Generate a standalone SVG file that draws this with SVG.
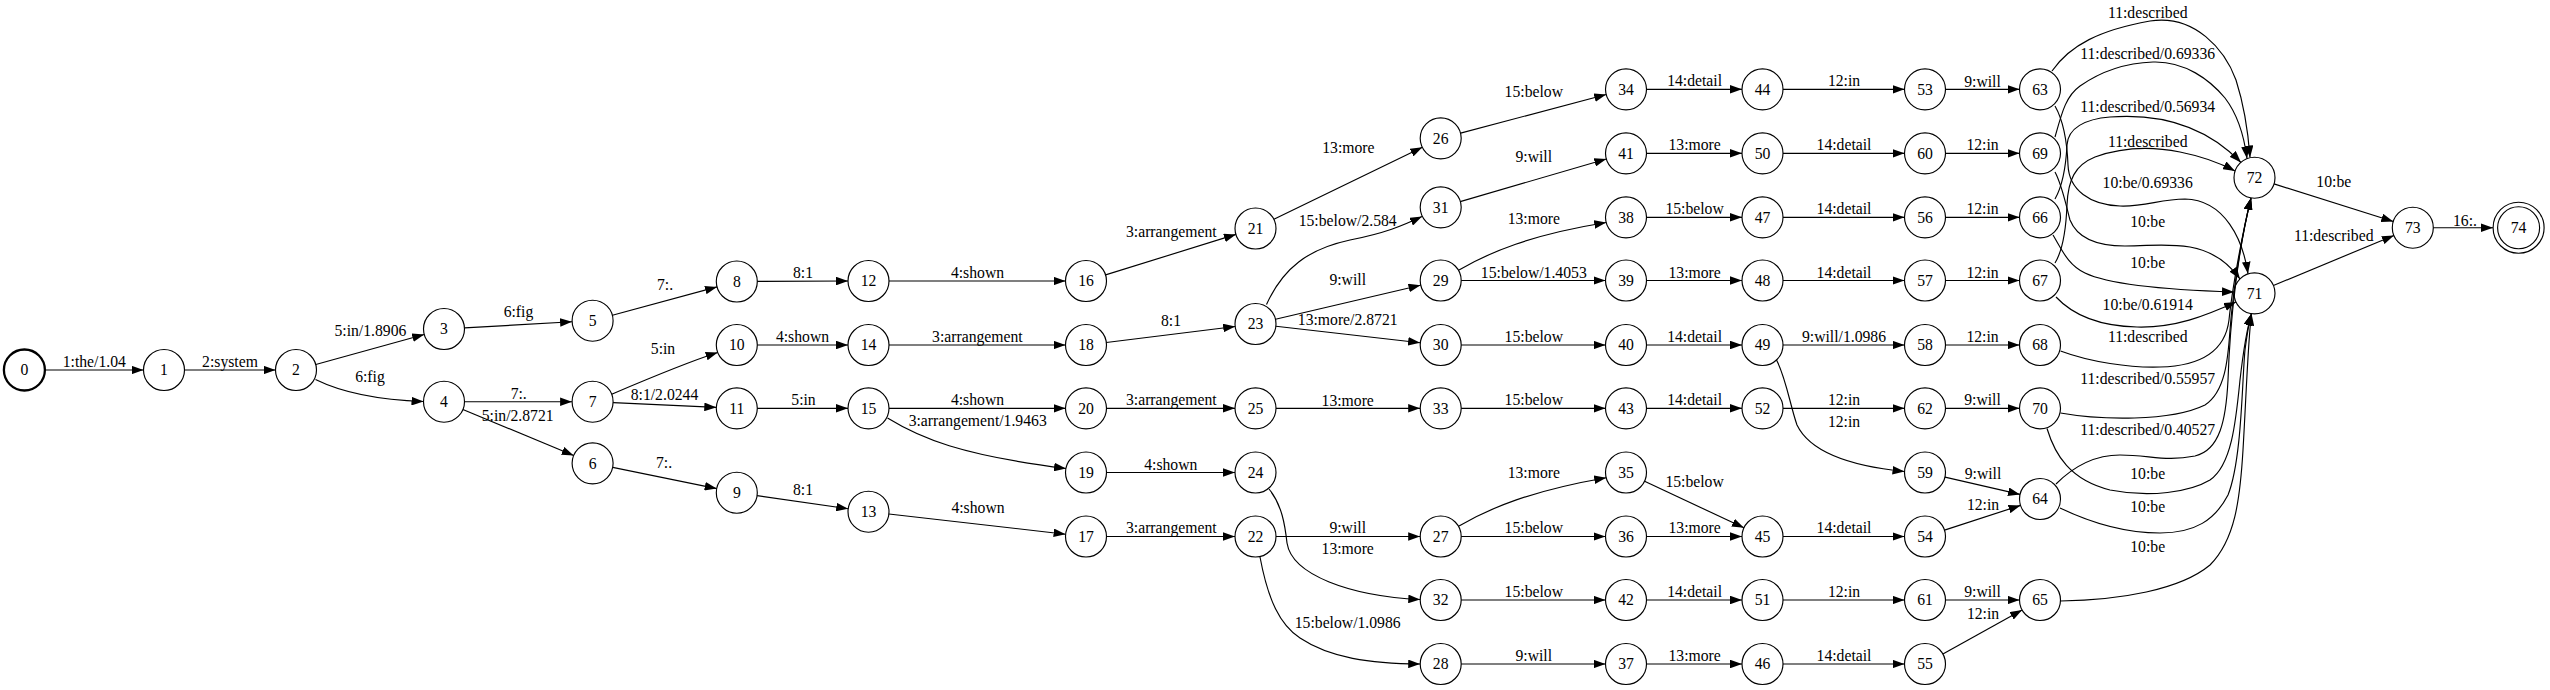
<svg xmlns="http://www.w3.org/2000/svg" width="2550" height="690" viewBox="0 0 2550 690">
<style>
text{font-family:"Liberation Serif","Times New Roman",serif;font-size:15.7px;text-anchor:middle;fill:#000}
.n circle{fill:none;stroke:#000;stroke-width:1.15}
.e path{fill:none;stroke:#000;stroke-width:1.15;marker-end:url(#a)}
</style>
<defs>
<marker id="a" viewBox="0 0 12 8.6" refX="12" refY="4.3" markerWidth="12" markerHeight="8.6" markerUnits="userSpaceOnUse" orient="auto"><path d="M0,0 L12,4.3 L0,8.6 z" fill="#000"/></marker>
</defs>
<rect width="2550" height="690" fill="#fff"/>
<g id="edges" class="e">
<g><path d="M45.4,370 L143.5,370"/><text x="94.3" y="366.5">1:the/1.04</text></g>
<g><path d="M184.5,370 L275.5,370"/><text x="230" y="366.5">2:system</text></g>
<g><path d="M315.8,364.5 L424.2,334.5"/><text x="370.4" y="336">5:in/1.8906</text></g>
<g><path d="M315.5,379.5 C345,394 380,400 423.5,401.5"/><text x="370" y="382">6:fig</text></g>
<g><path d="M464.5,327.9 L572.1,321.8"/><text x="518.5" y="317">6:fig</text></g>
<g><path d="M464.5,401.7 L572.1,401.7"/><text x="518.7" y="398.5">7:.</text></g>
<g><path d="M462.9,409.5 L573.7,455.5"/><text x="517.7" y="420.5">5:in/2.8721</text></g>
<g><path d="M612.4,315.3 L717,286.9"/><text x="665" y="290">7:.</text></g>
<g><path d="M611.7,394.2 C645,380 685,363 717.7,352.5"/><text x="663" y="354">5:in</text></g>
<g><path d="M613.1,402.6 L716.3,407.4"/><text x="664.5" y="400">8:1/2.0244</text></g>
<g><path d="M612.7,467.4 L716.7,488.6"/><text x="664" y="468">7:.</text></g>
<g><path d="M757.3,281.4 L848,281"/><text x="803" y="278">8:1</text></g>
<g><path d="M757.3,345 L848,345"/><text x="802.5" y="342">4:shown</text></g>
<g><path d="M757.3,408.3 L848,408.3"/><text x="803.5" y="405">5:in</text></g>
<g><path d="M757.1,495.6 L848.2,508.8"/><text x="803" y="495">8:1</text></g>
<g><path d="M889,281 L1065.5,281"/><text x="977.5" y="278">4:shown</text></g>
<g><path d="M889,345 L1065.5,345"/><text x="977.4" y="341.5">3:arrangement</text></g>
<g><path d="M889,408.3 L1065.5,408.3"/><text x="977.5" y="405">4:shown</text></g>
<g><path d="M887.5,418 C920,438 960,455 1066,468.5"/><text x="977.7" y="426">3:arrangement/1.9463</text></g>
<g><path d="M888.9,514 L1065.6,534.2"/><text x="978" y="513">4:shown</text></g>
<g><path d="M1105.6,274.9 L1235.9,234.4"/><text x="1171.3" y="237">3:arrangement</text></g>
<g><path d="M1106.3,342.5 L1235.2,326.5"/><text x="1171" y="326">8:1</text></g>
<g><path d="M1106.5,408.3 L1235,408.3"/><text x="1171.3" y="405">3:arrangement</text></g>
<g><path d="M1106.5,472.5 L1235,472.5"/><text x="1170.8" y="469.5">4:shown</text></g>
<g><path d="M1106.5,536.5 L1235,536.5"/><text x="1171.3" y="533">3:arrangement</text></g>
<g><path d="M1273.9,219.3 L1422.4,147.3"/><text x="1348.4" y="153">13:more</text></g>
<g><path d="M1266.5,304.5 C1283,268 1308,249 1350,240 C1385,233 1402,226 1422,216.5"/><text x="1347.7" y="226">15:below/2.584</text></g>
<g><path d="M1275.5,319.3 L1420.5,285.2"/><text x="1347.7" y="284.5">9:will</text></g>
<g><path d="M1275.9,326.3 L1420.1,342.7"/><text x="1347.7" y="325">13:more/2.8721</text></g>
<g><path d="M1276,408.3 L1420.2,408.3"/><text x="1347.7" y="405.5">13:more</text></g>
<g><path d="M1276,536.5 L1420.2,536.5"/><text x="1347.7" y="533">9:will</text></g>
<g><path d="M1269,489 C1282,505 1285,525 1287,543 C1292,575 1350,596 1420.3,599.5"/><text x="1347.7" y="554">13:more</text></g>
<g><path d="M1260,557 C1268,600 1280,625 1300,638 C1330,658 1370,663.5 1420.2,664"/><text x="1347.7" y="628">15:below/1.0986</text></g>
<g><path d="M1460.6,133.1 L1606.2,94.5"/><text x="1533.8" y="96.5">15:below</text></g>
<g><path d="M1460.2,201.6 L1606.3,159"/><text x="1533.8" y="162">9:will</text></g>
<g><path d="M1459,270 C1490,252 1530,235 1606.2,222.5"/><text x="1533.8" y="224">13:more</text></g>
<g><path d="M1461.2,280.5 L1605.5,280.5"/><text x="1533.8" y="277.5">15:below/1.4053</text></g>
<g><path d="M1461.2,345 L1605.5,345"/><text x="1533.8" y="342">15:below</text></g>
<g><path d="M1461.2,408.3 L1605.5,408.3"/><text x="1533.8" y="405">15:below</text></g>
<g><path d="M1459,526 C1490,508 1530,491 1606.2,477.7"/><text x="1533.8" y="478">13:more</text></g>
<g><path d="M1461.2,536.5 L1605.5,536.5"/><text x="1533.8" y="533">15:below</text></g>
<g><path d="M1461.2,600 L1605.5,600"/><text x="1533.8" y="597">15:below</text></g>
<g><path d="M1461.2,664 L1605.5,664"/><text x="1533.8" y="661">9:will</text></g>
<g><path d="M1646.5,89.3 L1742,89.3"/><text x="1694.6" y="86">14:detail</text></g>
<g><path d="M1646.5,153.3 L1742,153.3"/><text x="1694.6" y="150">13:more</text></g>
<g><path d="M1646.5,217.3 L1742,217.3"/><text x="1694.6" y="214">15:below</text></g>
<g><path d="M1646.5,280.5 L1742,280.5"/><text x="1694.6" y="277.5">13:more</text></g>
<g><path d="M1646.5,345 L1742,345"/><text x="1694.6" y="342">14:detail</text></g>
<g><path d="M1646.5,408.3 L1742,408.3"/><text x="1694.6" y="405">14:detail</text></g>
<g><path d="M1644.6,481.2 L1743.9,527.8"/><text x="1694.6" y="486.5">15:below</text></g>
<g><path d="M1646.5,536.5 L1742,536.5"/><text x="1694.6" y="533">13:more</text></g>
<g><path d="M1646.5,600 L1742,600"/><text x="1694.6" y="597">14:detail</text></g>
<g><path d="M1646.5,664 L1742,664"/><text x="1694.6" y="661">13:more</text></g>
<g><path d="M1783,89.3 L1904.5,89.3"/><text x="1844" y="86">12:in</text></g>
<g><path d="M1783,153.3 L1904.5,153.3"/><text x="1844" y="150">14:detail</text></g>
<g><path d="M1783,217.3 L1904.5,217.3"/><text x="1844" y="214">14:detail</text></g>
<g><path d="M1783,280.5 L1904.5,280.5"/><text x="1844" y="277.5">14:detail</text></g>
<g><path d="M1783,345 L1904.5,345"/><text x="1844" y="342">9:will/1.0986</text></g>
<g><path d="M1783,408.3 L1904.5,408.3"/><text x="1844" y="405">12:in</text></g>
<g><path d="M1776.5,360 C1786,378 1790,405 1797,425 C1810,452 1850,466 1904.5,471.5"/><text x="1844" y="426.5">12:in</text></g>
<g><path d="M1783,536.5 L1904.5,536.5"/><text x="1844" y="533">14:detail</text></g>
<g><path d="M1783,600 L1904.5,600"/><text x="1844" y="597">12:in</text></g>
<g><path d="M1783,664 L1904.5,664"/><text x="1844" y="661">14:detail</text></g>
<g><path d="M1945.5,89.3 L2019.5,89.3"/><text x="1982.5" y="86.5">9:will</text></g>
<g><path d="M1945.5,153.3 L2019.5,153.3"/><text x="1982.5" y="150">12:in</text></g>
<g><path d="M1945.5,217.3 L2019.5,217.3"/><text x="1982.5" y="214">12:in</text></g>
<g><path d="M1945.5,280.5 L2019.5,280.5"/><text x="1982.5" y="277.5">12:in</text></g>
<g><path d="M1945.5,345 L2019.5,345"/><text x="1982.5" y="342">12:in</text></g>
<g><path d="M1945.5,408.3 L2019.5,408.3"/><text x="1982.5" y="405">9:will</text></g>
<g><path d="M1945,477.1 L2020,494.4"/><text x="1983" y="478.5">9:will</text></g>
<g><path d="M1944.5,530.1 L2020.5,505.4"/><text x="1983" y="510">12:in</text></g>
<g><path d="M1945.5,600 L2019.5,600"/><text x="1982.5" y="597">9:will</text></g>
<g><path d="M1942.9,654 L2022.1,610"/><text x="1983" y="618.5">12:in</text></g>
<g><path d="M2052,71 C2070,45 2100,30 2150,21 C2195,14 2225,50 2236,80 C2244,105 2248,130 2250,157.5"/><text x="2147.7" y="18">11:described</text></g>
<g><path d="M2055,137 C2062,112 2066,96 2080,86 C2100,72 2125,63 2153,62 C2185,61 2210,80 2225,98 C2238,115 2244,135 2247,158.5"/><text x="2147.7" y="58.5">11:described/0.69336</text></g>
<g><path d="M2055,199 C2063,185 2066,165 2067,145 C2068,128 2085,119 2110,117 C2150,114 2200,120 2241,162.5"/><text x="2147.7" y="112">11:described/0.56934</text></g>
<g><path d="M2055,263 C2063,250 2066,230 2067,205 C2068,180 2075,165 2095,157 C2120,148 2150,146 2180,152 C2205,157 2222,164 2235,171"/><text x="2147.7" y="147">11:described</text></g>
<g><path d="M2055,106 C2063,120 2067,140 2068,165 C2069,190 2090,205 2120,206 C2145,207 2160,199 2185,199 C2225,200 2243,240 2248,273.8"/><text x="2147.7" y="188">10:be/0.69336</text></g>
<g><path d="M2055,172 C2062,185 2066,205 2070,220 C2078,240 2100,246 2125,246 C2150,246 2165,243 2190,247 C2212,251 2228,262 2240,279"/><text x="2147.7" y="226.5">10:be</text></g>
<g><path d="M2053,235 C2062,250 2068,265 2085,273 C2110,285 2170,290 2234,292"/><text x="2147.7" y="268">10:be</text></g>
<g><path d="M2056,297 C2070,312 2095,326 2137,327 C2175,328 2205,316 2236,302"/><text x="2147.7" y="310">10:be/0.61914</text></g>
<g><path d="M2060.5,351 C2090,362 2130,368 2160,367 C2200,366 2225,352 2229,320 C2232,290 2242,235 2251,198"/><text x="2147.7" y="342">11:described</text></g>
<g><path d="M2060.5,413 C2100,420 2170,422 2205,405 C2225,392 2228,360 2230,330 C2233,290 2242,235 2251,198"/><text x="2147.7" y="384">11:described/0.55957</text></g>
<g><path d="M2056,484 C2070,470 2090,455 2120,455 C2150,455 2165,462 2195,456 C2220,450 2226,420 2228,380 C2230,320 2238,250 2251,198"/><text x="2147.7" y="435">11:described/0.40527</text></g>
<g><path d="M2047,428.5 C2055,455 2070,480 2110,490 C2150,498 2190,492 2210,480 C2232,465 2236,420 2240,380 C2244,345 2248,325 2251.5,313.6"/><text x="2147.7" y="479">10:be</text></g>
<g><path d="M2060,508 C2085,520 2120,533 2160,533 C2195,533 2215,520 2228,495 C2242,460 2242,380 2245,350 C2247,335 2249,322 2251.5,313.6"/><text x="2147.7" y="511.5">10:be</text></g>
<g><path d="M2060.5,601 C2120,600 2180,590 2210,565 C2235,540 2240,500 2243,450 C2246,400 2248,340 2251.5,313.6"/><text x="2147.7" y="551.5">10:be</text></g>
<g><path d="M2274,183.9 L2393.3,221.5"/><text x="2333.8" y="186.5">10:be</text></g>
<g><path d="M2273.4,285.5 L2393.9,235.5"/><text x="2333.7" y="240.5">11:described</text></g>
<g><path d="M2433.3,227.7 L2493,227.7"/><text x="2465" y="225.5">16:.</text></g>
</g>
<g id="nodes" class="n">
<g id="n0"><circle cx="24.4" cy="370" r="20.5" style="stroke-width:2.3"/><text x="24.4" y="375.4">0</text></g>
<g id="n1"><circle cx="164" cy="370" r="20.5"/><text x="164" y="375.4">1</text></g>
<g id="n2"><circle cx="296" cy="370" r="20.5"/><text x="296" y="375.4">2</text></g>
<g id="n3"><circle cx="444" cy="329" r="20.5"/><text x="444" y="334.4">3</text></g>
<g id="n4"><circle cx="444" cy="401.7" r="20.5"/><text x="444" y="407.1">4</text></g>
<g id="n5"><circle cx="592.6" cy="320.7" r="20.5"/><text x="592.6" y="326.1">5</text></g>
<g id="n6"><circle cx="592.6" cy="463.3" r="20.5"/><text x="592.6" y="468.7">6</text></g>
<g id="n7"><circle cx="592.6" cy="401.7" r="20.5"/><text x="592.6" y="407.1">7</text></g>
<g id="n8"><circle cx="736.8" cy="281.5" r="20.5"/><text x="736.8" y="286.9">8</text></g>
<g id="n9"><circle cx="736.8" cy="492.7" r="20.5"/><text x="736.8" y="498.1">9</text></g>
<g id="n10"><circle cx="736.8" cy="345" r="20.5"/><text x="736.8" y="350.4">10</text></g>
<g id="n11"><circle cx="736.8" cy="408.3" r="20.5"/><text x="736.8" y="413.7">11</text></g>
<g id="n12"><circle cx="868.5" cy="281" r="20.5"/><text x="868.5" y="286.4">12</text></g>
<g id="n13"><circle cx="868.5" cy="511.7" r="20.5"/><text x="868.5" y="517.1">13</text></g>
<g id="n14"><circle cx="868.5" cy="345" r="20.5"/><text x="868.5" y="350.4">14</text></g>
<g id="n15"><circle cx="868.5" cy="408.3" r="20.5"/><text x="868.5" y="413.7">15</text></g>
<g id="n16"><circle cx="1086" cy="281" r="20.5"/><text x="1086" y="286.4">16</text></g>
<g id="n17"><circle cx="1086" cy="536.5" r="20.5"/><text x="1086" y="541.9">17</text></g>
<g id="n18"><circle cx="1086" cy="345" r="20.5"/><text x="1086" y="350.4">18</text></g>
<g id="n19"><circle cx="1086" cy="472.5" r="20.5"/><text x="1086" y="477.9">19</text></g>
<g id="n20"><circle cx="1086" cy="408.3" r="20.5"/><text x="1086" y="413.7">20</text></g>
<g id="n21"><circle cx="1255.5" cy="228.5" r="20.5"/><text x="1255.5" y="233.9">21</text></g>
<g id="n22"><circle cx="1255.5" cy="536.5" r="20.5"/><text x="1255.5" y="541.9">22</text></g>
<g id="n23"><circle cx="1255.5" cy="324" r="20.5"/><text x="1255.5" y="329.4">23</text></g>
<g id="n24"><circle cx="1255.5" cy="472.5" r="20.5"/><text x="1255.5" y="477.9">24</text></g>
<g id="n25"><circle cx="1255.5" cy="408.3" r="20.5"/><text x="1255.5" y="413.7">25</text></g>
<g id="n26"><circle cx="1440.7" cy="138.3" r="20.5"/><text x="1440.7" y="143.7">26</text></g>
<g id="n27"><circle cx="1440.7" cy="536.5" r="20.5"/><text x="1440.7" y="541.9">27</text></g>
<g id="n28"><circle cx="1440.7" cy="664" r="20.5"/><text x="1440.7" y="669.4">28</text></g>
<g id="n29"><circle cx="1440.7" cy="280.5" r="20.5"/><text x="1440.7" y="285.9">29</text></g>
<g id="n30"><circle cx="1440.7" cy="345" r="20.5"/><text x="1440.7" y="350.4">30</text></g>
<g id="n31"><circle cx="1440.7" cy="207.3" r="20.5"/><text x="1440.7" y="212.7">31</text></g>
<g id="n32"><circle cx="1440.7" cy="600" r="20.5"/><text x="1440.7" y="605.4">32</text></g>
<g id="n33"><circle cx="1440.7" cy="408.3" r="20.5"/><text x="1440.7" y="413.7">33</text></g>
<g id="n34"><circle cx="1626" cy="89.3" r="20.5"/><text x="1626" y="94.7">34</text></g>
<g id="n35"><circle cx="1626" cy="472.5" r="20.5"/><text x="1626" y="477.9">35</text></g>
<g id="n36"><circle cx="1626" cy="536.5" r="20.5"/><text x="1626" y="541.9">36</text></g>
<g id="n37"><circle cx="1626" cy="664" r="20.5"/><text x="1626" y="669.4">37</text></g>
<g id="n38"><circle cx="1626" cy="217.3" r="20.5"/><text x="1626" y="222.7">38</text></g>
<g id="n39"><circle cx="1626" cy="280.5" r="20.5"/><text x="1626" y="285.9">39</text></g>
<g id="n40"><circle cx="1626" cy="345" r="20.5"/><text x="1626" y="350.4">40</text></g>
<g id="n41"><circle cx="1626" cy="153.3" r="20.5"/><text x="1626" y="158.7">41</text></g>
<g id="n42"><circle cx="1626" cy="600" r="20.5"/><text x="1626" y="605.4">42</text></g>
<g id="n43"><circle cx="1626" cy="408.3" r="20.5"/><text x="1626" y="413.7">43</text></g>
<g id="n44"><circle cx="1762.5" cy="89.3" r="20.5"/><text x="1762.5" y="94.7">44</text></g>
<g id="n45"><circle cx="1762.5" cy="536.5" r="20.5"/><text x="1762.5" y="541.9">45</text></g>
<g id="n46"><circle cx="1762.5" cy="664" r="20.5"/><text x="1762.5" y="669.4">46</text></g>
<g id="n47"><circle cx="1762.5" cy="217.3" r="20.5"/><text x="1762.5" y="222.7">47</text></g>
<g id="n48"><circle cx="1762.5" cy="280.5" r="20.5"/><text x="1762.5" y="285.9">48</text></g>
<g id="n49"><circle cx="1762.5" cy="345" r="20.5"/><text x="1762.5" y="350.4">49</text></g>
<g id="n50"><circle cx="1762.5" cy="153.3" r="20.5"/><text x="1762.5" y="158.7">50</text></g>
<g id="n51"><circle cx="1762.5" cy="600" r="20.5"/><text x="1762.5" y="605.4">51</text></g>
<g id="n52"><circle cx="1762.5" cy="408.3" r="20.5"/><text x="1762.5" y="413.7">52</text></g>
<g id="n53"><circle cx="1925" cy="89.3" r="20.5"/><text x="1925" y="94.7">53</text></g>
<g id="n54"><circle cx="1925" cy="536.5" r="20.5"/><text x="1925" y="541.9">54</text></g>
<g id="n55"><circle cx="1925" cy="664" r="20.5"/><text x="1925" y="669.4">55</text></g>
<g id="n56"><circle cx="1925" cy="217.3" r="20.5"/><text x="1925" y="222.7">56</text></g>
<g id="n57"><circle cx="1925" cy="280.5" r="20.5"/><text x="1925" y="285.9">57</text></g>
<g id="n58"><circle cx="1925" cy="345" r="20.5"/><text x="1925" y="350.4">58</text></g>
<g id="n59"><circle cx="1925" cy="472.5" r="20.5"/><text x="1925" y="477.9">59</text></g>
<g id="n60"><circle cx="1925" cy="153.3" r="20.5"/><text x="1925" y="158.7">60</text></g>
<g id="n61"><circle cx="1925" cy="600" r="20.5"/><text x="1925" y="605.4">61</text></g>
<g id="n62"><circle cx="1925" cy="408.3" r="20.5"/><text x="1925" y="413.7">62</text></g>
<g id="n63"><circle cx="2040" cy="89.3" r="20.5"/><text x="2040" y="94.7">63</text></g>
<g id="n64"><circle cx="2040" cy="499" r="20.5"/><text x="2040" y="504.4">64</text></g>
<g id="n65"><circle cx="2040" cy="600" r="20.5"/><text x="2040" y="605.4">65</text></g>
<g id="n66"><circle cx="2040" cy="217.3" r="20.5"/><text x="2040" y="222.7">66</text></g>
<g id="n67"><circle cx="2040" cy="280.5" r="20.5"/><text x="2040" y="285.9">67</text></g>
<g id="n68"><circle cx="2040" cy="345" r="20.5"/><text x="2040" y="350.4">68</text></g>
<g id="n69"><circle cx="2040" cy="153.3" r="20.5"/><text x="2040" y="158.7">69</text></g>
<g id="n70"><circle cx="2040" cy="408.3" r="20.5"/><text x="2040" y="413.7">70</text></g>
<g id="n71"><circle cx="2254.5" cy="293.3" r="20.5"/><text x="2254.5" y="298.7">71</text></g>
<g id="n72"><circle cx="2254.5" cy="177.7" r="20.5"/><text x="2254.5" y="183.1">72</text></g>
<g id="n73"><circle cx="2412.8" cy="227.7" r="20.5"/><text x="2412.8" y="233.1">73</text></g>
<g id="n74"><circle cx="2518.6" cy="227.7" r="21"/><circle cx="2518.6" cy="227.7" r="25.5"/><text x="2518.6" y="233.1">74</text></g>
</g>
</svg>
